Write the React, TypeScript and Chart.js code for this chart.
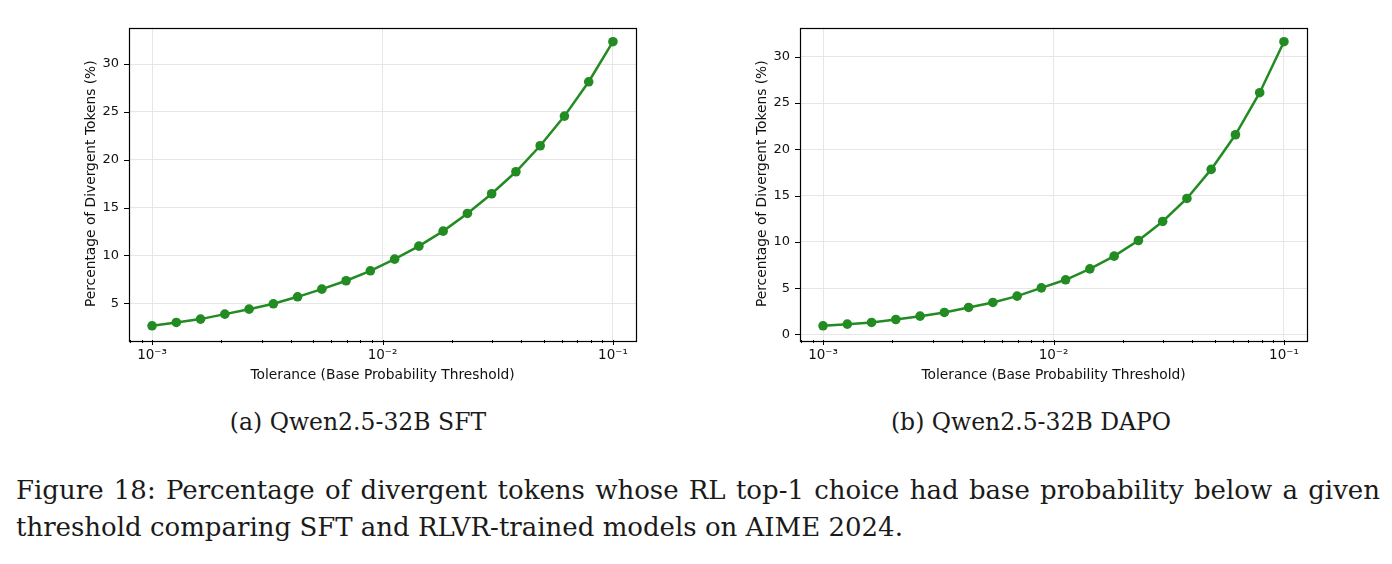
import React, { useEffect, useRef } from "react";
import { Chart, registerables } from "chart.js";

Chart.register(...registerables);

// Tolerance thresholds (x values, 20 log-spaced thresholds from 1e-3 to 1e-1)
const tolerances = [
  0.001, 0.0012743, 0.0016238, 0.0020691, 0.0026367, 0.0033598, 0.0042813,
  0.0054556, 0.0069519, 0.0088587, 0.011288, 0.014384, 0.01833, 0.023357,
  0.029764, 0.037927, 0.048329, 0.061585, 0.078476, 0.1,
];

// Percentage of divergent tokens (%)
const sftValues = [
  2.63, 2.98, 3.33, 3.85, 4.37, 4.93, 5.66, 6.46, 7.34, 8.38, 9.6, 10.96,
  12.53, 14.38, 16.44, 18.74, 21.46, 24.56, 28.15, 32.34,
];
const dapoValues = [
  0.94, 1.12, 1.3, 1.62, 1.98, 2.38, 2.92, 3.46, 4.14, 5.04, 5.91, 7.09, 8.46,
  10.15, 12.21, 14.69, 17.83, 21.57, 26.11, 31.62,
];

// Axis ticks
const xTickValues = [
  0.0008, 0.0009, 0.001, 0.002, 0.003, 0.004, 0.005, 0.006, 0.007, 0.008,
  0.009, 0.01, 0.02, 0.03, 0.04, 0.05, 0.06, 0.07, 0.08, 0.09, 0.1,
];
const xMajorTicks = [0.001, 0.01, 0.1];
const xMajorLabels = ["10\u207B\u00B3", "10\u207B\u00B2", "10\u207B\u00B9"];
const sftYTicks = [5, 10, 15, 20, 25, 30];
const dapoYTicks = [0, 5, 10, 15, 20, 25, 30];

const xTitle = "Tolerance (Base Probability Threshold)";
const yTitle = "Percentage of Divergent Tokens (%)";
const subCaptions = ["(a) Qwen2.5-32B SFT", "(b) Qwen2.5-32B DAPO"];
const captionLine1 =
  "Figure 18: Percentage of divergent tokens whose RL top-1 choice had base probability below a given";
const captionLine2 =
  "threshold comparing SFT and RLVR-trained models on AIME 2024.";

const GREEN = "#228B22";
const GRID = "#e6e6e6";
const FONT = "'DejaVu Sans', sans-serif";
const TICK_SIZE = 13;
const TITLE_SIZE = 13.8;

const CANVAS_W = 590;
const CANVAS_H = 370;

const framePlugin = {
  id: "frame",
  afterDraw(chart: any) {
    const { ctx, chartArea: a, scales } = chart;
    ctx.save();
    ctx.strokeStyle = "#000";
    ctx.lineWidth = 1;
    ctx.beginPath();
    scales.x.ticks.forEach((t: any) => {
      const px = Math.round(scales.x.getPixelForValue(t.value)) + 0.5;
      const len = xMajorTicks.includes(t.value) ? 5 : 3;
      ctx.moveTo(px, a.bottom);
      ctx.lineTo(px, a.bottom + len);
    });
    scales.y.ticks.forEach((t: any) => {
      const py = Math.round(scales.y.getPixelForValue(t.value)) + 0.5;
      ctx.moveTo(a.left, py);
      ctx.lineTo(a.left - 5, py);
    });
    ctx.stroke();
    ctx.lineWidth = 1.2;
    ctx.strokeRect(
      Math.round(a.left) + 0.5,
      Math.round(a.top) + 0.5,
      Math.round(a.right - a.left),
      Math.round(a.bottom - a.top)
    );
    ctx.restore();
  },
};

function DivergenceChart(props: {
  values: number[];
  yTicks: number[];
  left: number;
  top: number;
}) {
  const ref = useRef<HTMLCanvasElement>(null);
  useEffect(() => {
    if (!ref.current) return;
    const { values, yTicks } = props;
    const ymin = Math.min(...values);
    const ymax = Math.max(...values);
    const ym = (ymax - ymin) * 0.05;
    const lxmin = Math.log10(tolerances[0]);
    const lxmax = Math.log10(tolerances[tolerances.length - 1]);
    const xm = (lxmax - lxmin) * 0.05;

    const chart = new Chart(ref.current, {
      type: "line",
      data: {
        datasets: [
          {
            data: tolerances.map((x, i) => ({ x, y: values[i] })),
            borderColor: GREEN,
            backgroundColor: GREEN,
            borderWidth: 2.5,
            pointRadius: 4.8,
            pointBackgroundColor: GREEN,
            pointBorderColor: GREEN,
            pointBorderWidth: 0,
            tension: 0,
          },
        ],
      },
      options: {
        animation: false,
        responsive: false,
        devicePixelRatio: 1,
        layout: { padding: { left: 22.7, right: 14, top: 7.5, bottom: 6.7 } },
        plugins: {
          legend: { display: false },
          tooltip: { enabled: false },
        },
        scales: {
          x: {
            type: "logarithmic",
            min: Math.pow(10, lxmin - xm),
            max: Math.pow(10, lxmax + xm),
            afterBuildTicks: (scale: any) => {
              scale.ticks = xTickValues.map((v) => ({ value: v }));
            },
            afterFit: (scale: any) => {
              scale.height = 43.3;
              scale.paddingLeft = 0;
              scale.paddingRight = 0;
              scale.paddingTop = 0;
              scale.paddingBottom = 0;
            },
            grid: {
              color: (c: any) =>
                c.tick && xMajorTicks.includes(c.tick.value) ? GRID : "rgba(0,0,0,0)",
              lineWidth: 1,
              drawTicks: false,
            },
            border: { display: false },
            ticks: {
              autoSkip: false,
              maxRotation: 0,
              minRotation: 0,
              padding: 7,
              color: "#111",
              font: { family: FONT, size: 13.5 },
              callback: (v: any) => {
                const idx = xMajorTicks.indexOf(Number(v));
                return idx >= 0 ? xMajorLabels[idx] : "";
              },
            },
            title: {
              display: true,
              text: xTitle,
              color: "#111",
              font: { family: FONT, size: TITLE_SIZE },
              padding: 0,
            },
          },
          y: {
            type: "linear",
            min: ymin - ym,
            max: ymax + ym,
            afterBuildTicks: (scale: any) => {
              scale.ticks = yTicks.map((v) => ({ value: v }));
            },
            afterFit: (scale: any) => {
              scale.width = 46.3;
              scale.paddingLeft = 0;
              scale.paddingRight = 0;
              scale.paddingTop = 0;
              scale.paddingBottom = 0;
            },
            grid: { color: GRID, lineWidth: 1, drawTicks: false },
            border: { display: false },
            ticks: {
              padding: 10,
              color: "#111",
              font: { family: FONT, size: TICK_SIZE },
              callback: (v: any) => String(v),
            },
            title: {
              display: true,
              text: yTitle,
              color: "#111",
              font: { family: FONT, size: TITLE_SIZE },
              padding: 0,
            },
          },
        },
      },
      plugins: [framePlugin],
    } as any);
    return () => chart.destroy();
  }, []);
  return (
    <canvas
      ref={ref}
      width={CANVAS_W}
      height={CANVAS_H}
      style={{
        position: "absolute",
        left: props.left,
        top: props.top,
        width: CANVAS_W,
        height: CANVAS_H,
      }}
    />
  );
}

export default function App() {
  const serif = "'DejaVu Serif', serif";
  const sub: React.CSSProperties = {
    position: "absolute",
    width: 600,
    top: 406,
    lineHeight: "32px",
    textAlign: "center",
    fontFamily: serif,
    fontSize: 23.5,
    color: "#1a1a1a",
  };
  return (
    <div
      style={{
        position: "fixed",
        left: 0,
        top: 0,
        width: 1392,
        height: 564,
        background: "#fff",
        overflow: "hidden",
      }}
    >
      <DivergenceChart values={sftValues} yTicks={sftYTicks} left={60} top={20} />
      <DivergenceChart values={dapoValues} yTicks={dapoYTicks} left={731} top={20} />
      <div style={{ ...sub, left: 58 }}>{subCaptions[0]}</div>
      <div style={{ ...sub, left: 731 }}>{subCaptions[1]}</div>
      <div
        style={{
          position: "absolute",
          left: 16,
          width: 1364,
          top: 472,
          lineHeight: "36px",
          fontFamily: serif,
          fontSize: 26,
          color: "#1a1a1a",
          textAlign: "justify",
          textAlignLast: "justify" as any,
          whiteSpace: "nowrap",
        }}
      >
        {captionLine1}
      </div>
      <div
        style={{
          position: "absolute",
          left: 16,
          top: 509,
          lineHeight: "36px",
          fontFamily: serif,
          fontSize: 26,
          color: "#1a1a1a",
          whiteSpace: "nowrap",
        }}
      >
        {captionLine2}
      </div>
    </div>
  );
}
